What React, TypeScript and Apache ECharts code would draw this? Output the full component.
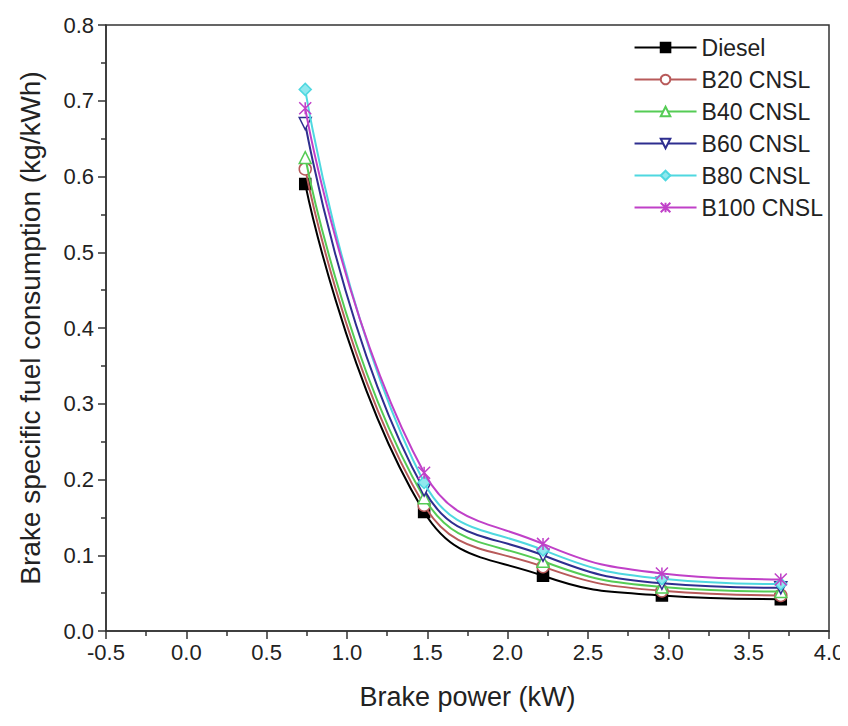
import React, { useEffect, useRef } from "react";
import * as echarts from "echarts";

const brakePower = [0.74, 1.48, 2.22, 2.96, 3.7];
const diesel = [0.59, 0.157, 0.073, 0.047, 0.042];
const b20 = [0.61, 0.166, 0.085, 0.053, 0.047];
const b40 = [0.625, 0.176, 0.092, 0.058, 0.052];
const b60 = [0.67, 0.186, 0.1, 0.063, 0.057];
const b80 = [0.715, 0.196, 0.107, 0.069, 0.062];
const b100 = [0.69, 0.209, 0.115, 0.076, 0.068];

const seriesNames = ["Diesel", "B20 CNSL", "B40 CNSL", "B60 CNSL", "B80 CNSL", "B100 CNSL"];
const seriesValues = [diesel, b20, b40, b60, b80, b100];
const seriesColors = ["#000000", "#b85a5a", "#55cc55", "#2e2e8f", "#4fd8e0", "#c040c8"];
const seriesSymbols = [
  "rect",
  "circle",
  "triangle",
  "path://M0,0L10,0L5,9Z",
  "diamond",
  "path://M0,0L10,10M10,0L0,10M5,0L5,10",
];
const seriesFill = ["#000000", "#ffffff", "#ffffff", "#ffffff", "#8fe8ee", "#ffffff"];

export default function App() {
  const ref = useRef<HTMLDivElement>(null);
  useEffect(() => {
    const chart = echarts.init(ref.current!, undefined, { renderer: "svg" });
    const font = "Liberation Sans, Arial, sans-serif";
    chart.setOption({
      animation: false,
      backgroundColor: "#ffffff",
      grid: {
        left: 106,
        right: 19,
        top: 25,
        bottom: 95,
        show: true,
        borderColor: "#333",
        borderWidth: 1.5,
      },
      legend: {
        orient: "vertical",
        right: 20,
        top: 31,
        itemWidth: 62,
        itemHeight: 12,
        itemGap: 9,
        textStyle: { fontFamily: font, fontSize: 23, color: "#222" },
        data: seriesNames,
      },
      xAxis: {
        type: "value",
        min: -0.5,
        max: 4.0,
        interval: 0.5,
        name: "Brake power (kW)",
        nameLocation: "middle",
        nameGap: 52,
        nameTextStyle: { fontFamily: font, fontSize: 27, color: "#222" },
        axisLine: { show: true, onZero: false, lineStyle: { color: "#333", width: 1.5 } },
        axisTick: { show: true, inside: false, length: 8, lineStyle: { color: "#333", width: 1.5 } },
        minorTick: { show: true, splitNumber: 2, length: 5, lineStyle: { color: "#333", width: 1.5 } },
        axisLabel: {
          fontFamily: font,
          fontSize: 22,
          color: "#222",
          margin: 10,
          formatter: (v: number) => v.toFixed(1),
        },
        splitLine: { show: false },
      },
      yAxis: {
        type: "value",
        min: 0,
        max: 0.8,
        interval: 0.1,
        name: "Brake specific fuel consumption (kg/kWh)",
        nameLocation: "middle",
        nameGap: 62,
        nameTextStyle: { fontFamily: font, fontSize: 28, color: "#222" },
        axisLine: { show: true, onZero: false, lineStyle: { color: "#333", width: 1.5 } },
        axisTick: { show: true, inside: false, length: 8, lineStyle: { color: "#333", width: 1.5 } },
        minorTick: { show: true, splitNumber: 2, length: 5, lineStyle: { color: "#333", width: 1.5 } },
        axisLabel: {
          fontFamily: font,
          fontSize: 22,
          color: "#222",
          margin: 12,
          formatter: (v: number) => v.toFixed(1),
        },
        splitLine: { show: false },
      },
      series: seriesNames.map((name, i) => ({
        name,
        type: "line",
        smooth: 0.45,
        data: brakePower.map((x, j) => [x, seriesValues[i][j]]),
        symbol: seriesSymbols[i],
        symbolSize: i === 0 ? 11 : 12,
        showAllSymbol: true,
        lineStyle: { color: seriesColors[i], width: 2 },
        itemStyle: {
          color: seriesFill[i],
          borderColor: seriesColors[i],
          borderWidth: 1.5,
        },
        z: 2 + i,
      })),
    });
    return () => chart.dispose();
  }, []);
  return <div ref={ref} style={{ width: 848, height: 726, margin: -8 }} />;
}
